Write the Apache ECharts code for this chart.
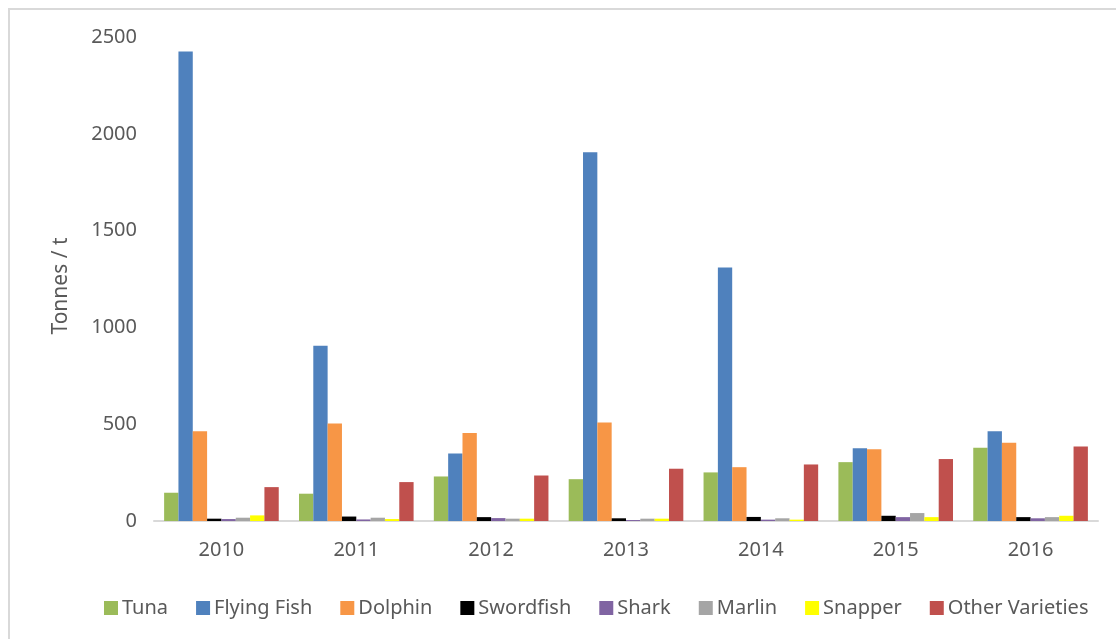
<!DOCTYPE html>
<html>
<head>
    <meta charset="UTF-8">
    <title></title>
    <style>
        html, body { margin: 0; padding: 0; background: #fff; }
    </style>
</head>
<body>
<div id="main" style="width: 1116px;height:639px;"></div>
<script type="text/javascript" src="https://cdn.jsdelivr.net/npm/echarts@6/dist/echarts.min.js"></script>
<script type="text/javascript">
    // 数据
    var years = ['2010', '2011', '2012', '2013', '2014', '2015', '2016'];
    var tuna = [146, 141, 230, 216, 251, 304, 378];
    var flyingFish = [2425, 905, 349, 1905, 1310, 376, 464];
    var dolphin = [464, 503, 455, 509, 278, 371, 404];
    var swordfish = [12, 23, 20, 14, 21, 27, 20];
    var shark = [10, 8, 15, 5, 7, 20, 14];
    var marlin = [17, 17, 12, 12, 14, 41, 20];
    var snapper = [29, 10, 12, 12, 7, 20, 27];
    var otherVarieties = [175, 201, 235, 270, 292, 320, 385];
    var yTicks = [0, 500, 1000, 1500, 2000, 2500];

    var names = ['Tuna', 'Flying Fish', 'Dolphin', 'Swordfish', 'Shark', 'Marlin', 'Snapper', 'Other Varieties'];
    var values = [tuna, flyingFish, dolphin, swordfish, shark, marlin, snapper, otherVarieties];
    var colors = ['#9BBB59', '#4F81BD', '#F79646', '#000000', '#8064A2', '#A5A5A5', '#FFFF00', '#C0504D'];

    var font = 'Noto Sans';
    var myChart = echarts.init(document.getElementById('main'));

    var series = names.map(function (n, i) {
        return {
            name: n,
            type: 'bar',
            data: values[i],
            barGap: '0%',
            barCategoryGap: '15%',
            itemStyle: {color: colors[i]}
        };
    });

    var option = {
        animation: false,
        color: colors,
        textStyle: {fontFamily: font},
        graphic: [{
            type: 'rect',
            shape: {x: 9, y: 9, width: 1200, height: 700},
            style: {fill: 'none', stroke: '#d9d9d9', lineWidth: 2},
            silent: true
        }],
        legend: {
            bottom: 16,
            left: 99,
            itemWidth: 14,
            itemHeight: 14,
            itemGap: 28,
            icon: 'rect',
            textStyle: {fontFamily: font, fontSize: 20, color: '#595959', padding: [0, 0, 0, -1]},
            data: names
        },
        grid: {
            left: 154,
            right: 18,
            top: 37,
            bottom: 118
        },
        xAxis: {
            type: 'category',
            data: years,
            axisLine: {lineStyle: {color: '#d9d9d9', width: 2}},
            axisTick: {show: false},
            axisLabel: {fontFamily: font, fontSize: 20, color: '#595959', margin: 19}
        },
        yAxis: {
            type: 'value',
            min: yTicks[0],
            max: yTicks[yTicks.length - 1],
            interval: 500,
            name: 'Tonnes / t',
            nameLocation: 'middle',
            nameGap: 82,
            nameTextStyle: {fontFamily: font, fontSize: 21, color: '#595959', padding: [0, 0, 0, -14]},
            axisLine: {show: false},
            axisTick: {show: false},
            splitLine: {show: false},
            axisLabel: {
                fontFamily: font, fontSize: 20, color: '#595959', margin: 17,
                formatter: function (v) { return String(v); }
            }
        },
        series: series
    };

    myChart.setOption(option);
</script>
</body>
</html>
